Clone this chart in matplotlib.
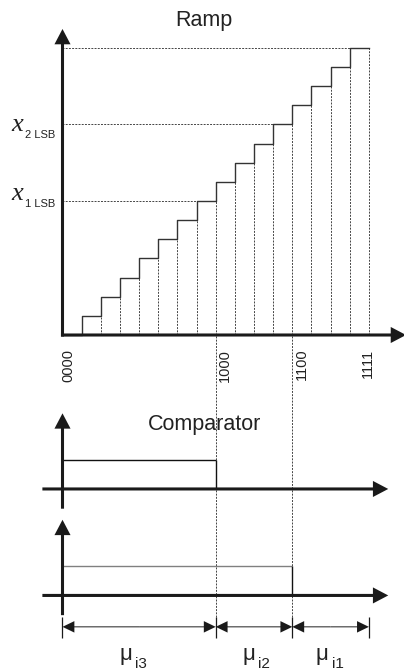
import numpy as np
import matplotlib.pyplot as plt

plt.rcParams['font.family'] = ['Liberation Sans', 'DejaVu Sans']

# ramp level for each code 0000 ... 1111
ramp_levels = [0, 1, 2, 3, 4, 5, 6, 7, 8, 9, 10, 11, 12, 13, 14, 15]
tick_pos = [0, 8, 12, 16]
tick_labels = ["0000", "1000", "1100", "1111"]
ref_levels = [7, 11, 15]            # x1 LSB, x2 LSB, full scale
ref_names = ["1 LSB", "2 LSB"]
switch_codes = [8, 12]              # codes where comparator 1 / 2 go low
mu_bounds = [0, 8, 12, 16]
mu_names = ["i3", "i2", "i1"]

# layout (one data unit = one code step)
U = 19.15
comp_base = [-8.04, -13.60]
comp_high = 1.52
y_dim = -15.24
ink = '#1a1a1a'
dot = (0, (2.0, 1.3))

fig = plt.figure(figsize=(4.04, 6.72), dpi=100)
ax = fig.add_axes([0, 0, 1, 1])
ax.set_xlim(-62.5 / U, (404 - 62.5) / U)
ax.set_ylim((335 - 672) / U, 335 / U)
ax.axis('off')


def axis_arrow(x, y, dx, dy):
    ax.arrow(x, y, dx, dy, width=0.16, head_width=0.84, head_length=0.8,
             length_includes_head=True, fc=ink, ec='none', zorder=5)


# ----- Ramp -----
xs = np.arange(len(ramp_levels) + 1)
ax.step(xs, ramp_levels + [ramp_levels[-1]], where='post', color='#333333', lw=1.0, zorder=3)
ax.vlines(xs[1:], 0, ramp_levels, colors='#444444', lw=0.7, linestyles=dot, zorder=2)
for lv in ref_levels:
    ax.hlines(lv, 0, ramp_levels.index(lv), colors='#444444', lw=0.7, linestyles=dot, zorder=2)
for s in switch_codes:
    ax.vlines(s, -14.73, 0, colors='#444444', lw=0.7, linestyles=dot, zorder=2)

axis_arrow(0, -0.08, 0, 16.06)
axis_arrow(-0.08, 0, 18.02, 0)

ax.text(7.37, 16.15, "Ramp", fontsize=15.5, ha='center', va='baseline', color='#222222')

label_x = [-0.05, 8.1, 12.12, 15.6]
for lx, t in zip(label_x, tick_labels):
    ax.text(lx, -0.72, t, rotation=90, fontsize=10.5, ha='left', va='top', color='#222222')

for lv, name in zip(ref_levels[:2], ref_names):
    base = 7.05 if lv == 7 else 10.65
    ax.text(-2.68, base, "x", fontsize=19, family='Liberation Serif', style='italic',
            ha='left', va='baseline', color='#222222')
    ax.text(-1.96, base - 0.36, name, fontsize=8, ha='left', va='baseline', color='#222222')

# ----- Comparators -----
ax.text(7.44, -4.96, "Comparator", fontsize=15.5, ha='center', va='baseline', color='#222222')
pulse_colors = ['#111111', '#808080']
for base, s, c in zip(comp_base, switch_codes, pulse_colors):
    ax.hlines(base + comp_high, 0, s, colors=c, lw=1.0, zorder=3)
    ax.vlines(s, base, base + comp_high, colors='#111111', lw=1.0, zorder=3)
    axis_arrow(0, base - 1.03, 0, 4.98)
    axis_arrow(-1.05, base, 18.06, 0)

# ----- interval arrows -----
ax.vlines(mu_bounds, -15.80, -14.73, colors=ink, lw=0.9)
for a, b in zip(mu_bounds[:-1], mu_bounds[1:]):
    mid = (a + b) / 2
    for end in (a, b):
        ax.arrow(mid, y_dim, end - mid, 0, width=0.05, head_width=0.6, head_length=0.62,
                 length_includes_head=True, fc=ink, ec='none')

mu_x = [3.0, 9.39, 13.23]
sub_x = [3.79, 10.21, 14.06]
for mx, sx, name in zip(mu_x, sub_x, mu_names):
    ax.text(mx, -16.97, "\u03bc", fontsize=16, ha='left', va='baseline', color='#222222')
    ax.text(sx, -17.39, name, fontsize=11, ha='left', va='baseline', color='#222222')

fig.savefig("out.png", dpi=100)
